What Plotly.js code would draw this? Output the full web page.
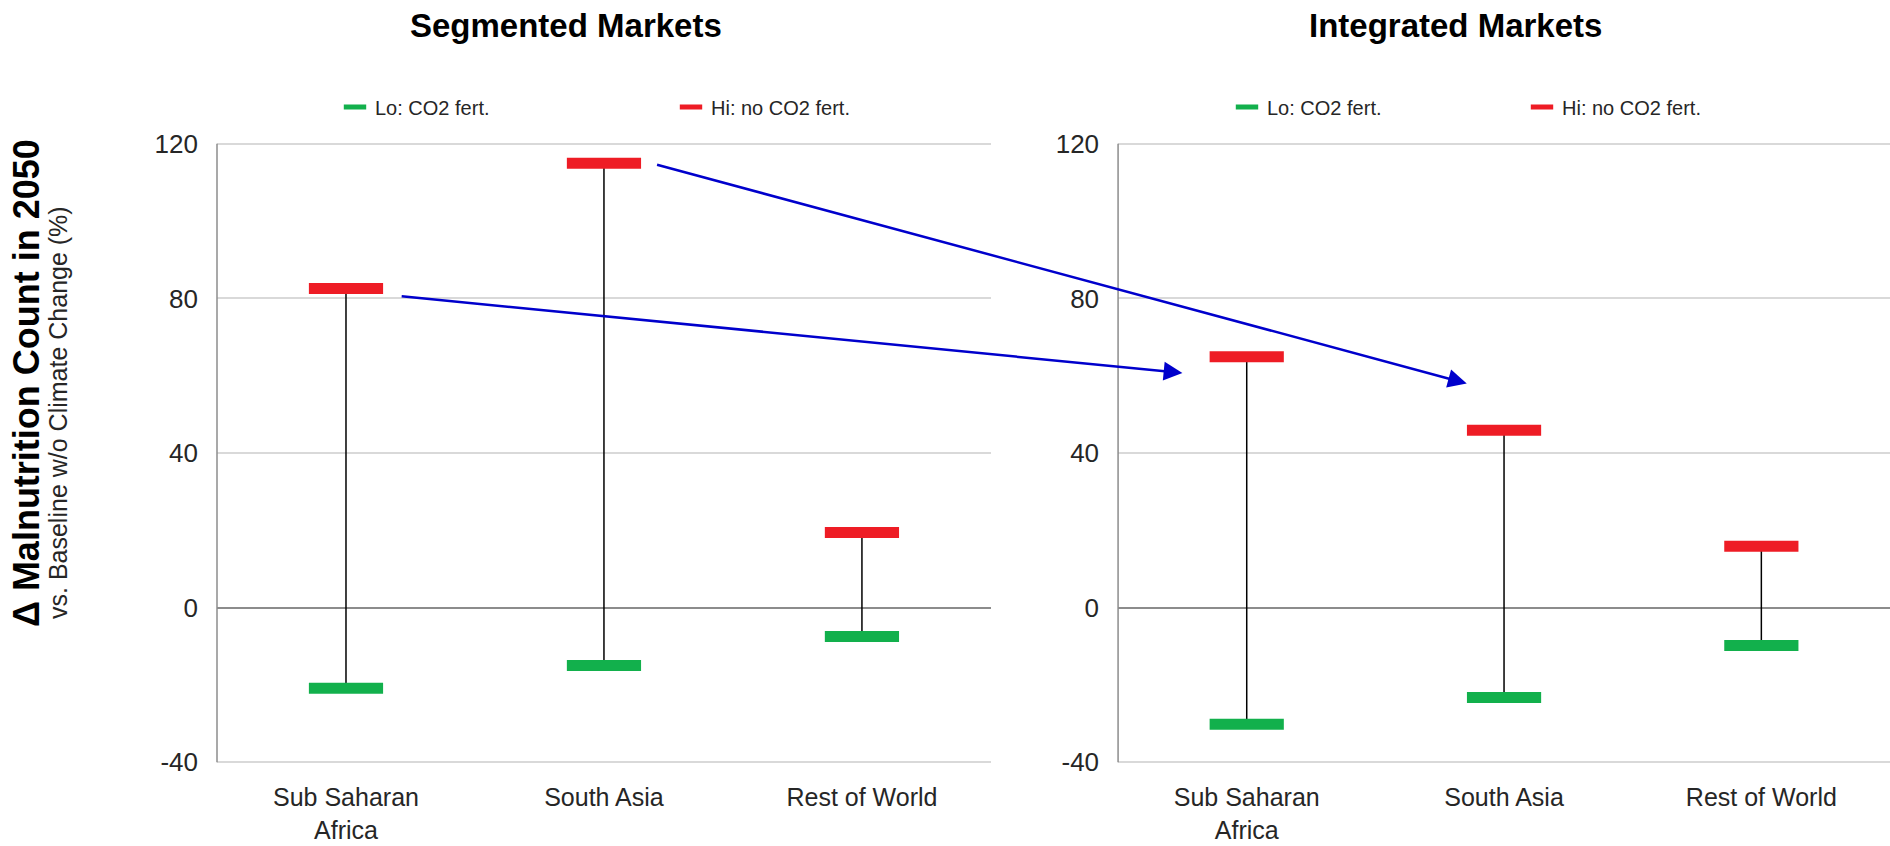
<!DOCTYPE html>
<html><head><meta charset="utf-8">
<script src="https://cdn.plot.ly/plotly-3.0.1.min.js"></script>
<style>html,body{margin:0;padding:0;background:#fff;}#chart{width:1890px;height:846px;}</style>
</head><body><div id="chart"></div>
<script>
// ---- data ----
const categories = ['Sub Saharan<br>Africa', 'South Asia', 'Rest of World'];
const segmentedLo = [-20.9, -15.0, -7.5];
const segmentedHi = [82.6, 115.0, 19.4];
const integratedLo = [-30.2, -23.3, -9.8];
const integratedHi = [64.9, 45.9, 15.9];
const panelTitles = ['Segmented Markets', 'Integrated Markets'];
const seriesNames = ['Lo: CO2 fert.', 'Hi: no CO2 fert.'];
const yTickVals = [-40, 0, 40, 80, 120];
const yTickText = ['-40', '0', '40', '80', '120'];
const yTitleMain = 'Δ Malnutrition Count in 2050';
const yTitleSub = 'vs. Baseline w/o Climate Change (%)';
// arrows: tail in left panel (category index, value) -> head in right panel (category index, value)
const arrowTailX = [0.21, 1.20];
const arrowTailY = [80.6, 114.7];
const arrowHeadX = [-0.25, 0.855];
const arrowHeadY = [60.7, 58.0];

// ---- layout constants ----
const W = 1890, H = 846;
const M = {l: 217, r: 0, t: 140, b: 80};
const pw = W - M.l - M.r, ph = H - M.t - M.b;
const dom1 = [0, 0.4626], dom2 = [0.5386, 1];
const xr = [-0.5, 2.5], yr = [-41, 121];
function px(dom, xi) { const x0 = M.l + dom[0]*pw, x1 = M.l + dom[1]*pw; return x0 + (xi - xr[0])/(xr[1]-xr[0])*(x1 - x0); }
function py(v) { return M.t + (yr[1] - v)/(yr[1] - yr[0])*ph; }

const GREEN = '#12b04c', RED = '#ee1c25';
const baseFont = 'Liberation Sans, Arial, sans-serif';

function makeTraces(lo, hi, xa, ya, leg) {
  const diff = hi.map((h, i) => h - lo[i]);
  return [
    {type: 'scatter', mode: 'markers', x: categories, y: hi, xaxis: xa, yaxis: ya, name: seriesNames[1], legend: leg,
     marker: {symbol: 'line-ew-open', size: 53, color: RED, line: {color: RED, width: 11}},
     error_y: {type: 'data', symmetric: false, array: hi.map(() => 0), arrayminus: diff, width: 0, color: '#000', thickness: 1.5},
     hoverinfo: 'y'},
    {type: 'scatter', mode: 'markers', x: categories, y: lo, xaxis: xa, yaxis: ya, name: seriesNames[0], legend: leg,
     marker: {symbol: 'line-ew-open', size: 53, color: GREEN, line: {color: GREEN, width: 11}},
     hoverinfo: 'y'}
  ];
}

const data = [].concat(
  makeTraces(segmentedLo, segmentedHi, 'x', 'y', 'legend'),
  makeTraces(integratedLo, integratedHi, 'x2', 'y2', 'legend2')
);

// light gridlines at the range ends (-40 and 120) are drawn as shapes so they are not clipped
function yaxisCfg(anchor) {
  return {anchor: anchor, range: yr, tickvals: yTickVals, ticktext: yTickText, ticks: '', showline: false,
    showgrid: true, gridcolor: '#d9d9d9', gridwidth: 1.5, zeroline: true, zerolinecolor: '#8c8c8c', zerolinewidth: 2,
    tickfont: {family: baseFont, size: 26, color: '#262626'}, ticklabelstandoff: 18, fixedrange: true};
}
function xaxisCfg(dom, anchor) {
  return {domain: dom, anchor: anchor, type: 'category', range: xr, showgrid: false, zeroline: false, showline: false, ticks: '',
    tickfont: {family: baseFont, size: 25, color: '#262626'}, ticklabelstandoff: 14, fixedrange: true};
}
function legendCfg(xPix, ew) {
  return {orientation: 'h', x: (xPix - M.l)/pw, xanchor: 'left', y: (M.t + ph - 107)/ph, yanchor: 'middle',
    traceorder: 'reversed', entrywidth: ew, entrywidthmode: 'pixels', bgcolor: 'rgba(0,0,0,0)',
    font: {family: baseFont, size: 20, color: '#262626'}, itemclick: false, itemdoubleclick: false};
}

// vertical y-axis lines spanning exactly -40..120
const shapes = [];
[['x', 'y'], ['x2', 'y2']].forEach(([xa, ya]) => {
  shapes.push({type: 'line', xref: xa + ' domain', yref: ya, x0: 0, x1: 0, y0: yTickVals[0], y1: yTickVals[yTickVals.length - 1],
    line: {color: '#8c8c8c', width: 1.5}, layer: 'above'});
});

const annotations = [];
const titleX = [566, 1455];
panelTitles.forEach((t, i) => annotations.push({text: '<b>' + t + '</b>', xref: 'paper', yref: 'paper',
  x: (titleX[i] - M.l)/pw, y: (M.t + ph - 26)/ph, xanchor: 'center', yanchor: 'middle', showarrow: false,
  font: {family: baseFont, size: 33, color: '#000'}}));
annotations.push({text: '<b>' + yTitleMain + '</b>', xref: 'paper', yref: 'paper', x: (26 - M.l)/pw, y: (M.t + ph - 383)/ph,
  xanchor: 'center', yanchor: 'middle', textangle: -90, showarrow: false, font: {family: baseFont, size: 36, color: '#000'}});
annotations.push({text: yTitleSub, xref: 'paper', yref: 'paper', x: (58 - M.l)/pw, y: (M.t + ph - 413)/ph,
  xanchor: 'center', yanchor: 'middle', textangle: -90, showarrow: false, font: {family: baseFont, size: 25, color: '#262626'}});
for (let k = 0; k < arrowTailX.length; k++) {
  const hx = px(dom2, arrowHeadX[k]), hy = py(arrowHeadY[k]);
  const tx = px(dom1, arrowTailX[k]), ty = py(arrowTailY[k]);
  annotations.push({xref: 'x2', yref: 'y2', x: arrowHeadX[k], y: arrowHeadY[k], ax: tx - hx, ay: ty - hy,
    axref: 'pixel', ayref: 'pixel', text: '', showarrow: true, arrowhead: 2, arrowsize: 1.5, arrowwidth: 2.5,
    arrowcolor: '#0000cc', standoff: 0, startstandoff: 0});
}

const layout = {
  width: W, height: H, margin: M, paper_bgcolor: '#fff', plot_bgcolor: '#fff', showlegend: true,
  xaxis: xaxisCfg(dom1, 'y'), yaxis: yaxisCfg('x'),
  xaxis2: xaxisCfg(dom2, 'y2'), yaxis2: yaxisCfg('x2'),
  legend: legendCfg(335, 291), legend2: legendCfg(1227, 250),
  shapes: shapes, annotations: annotations, hovermode: 'closest'
};
Plotly.newPlot('chart', data, layout, {displayModeBar: false, responsive: false});
</script></body></html>
